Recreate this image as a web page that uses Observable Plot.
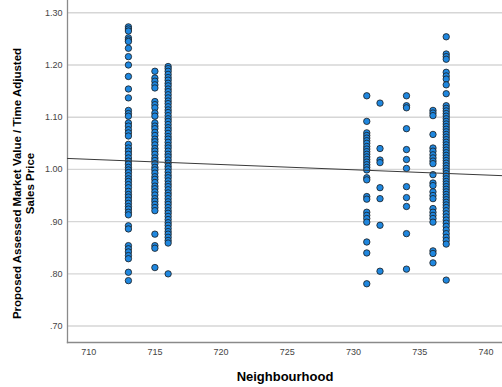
<!DOCTYPE html>
<html><head><meta charset="utf-8">
<script src="https://cdn.jsdelivr.net/npm/d3@7"></script>
<script src="https://cdn.jsdelivr.net/npm/@observablehq/plot@0.6"></script>
<style>html,body{margin:0;padding:0;background:#fff}svg{display:block}</style>
</head><body><div id="chart"></div>
<script>
const neighbourhoods = [713, 715, 716, 731, 732, 734, 736, 737];
const n713 = [1.273,1.269,1.265,1.252,1.248,1.245,1.232,1.216,1.200,1.178,1.154,1.137,1.113,1.107,1.102,1.089,1.083,1.076,1.070,1.064,1.048,1.041,1.035,1.029,1.022,1.016,1.010,1.004,0.999,0.994,0.988,0.982,0.977,0.971,0.965,0.958,0.952,0.947,0.941,0.935,0.929,0.924,0.918,0.913,0.892,0.886,0.854,0.848,0.842,0.835,0.829,0.803,0.787];
const n715 = [1.188,1.175,1.169,1.162,1.156,1.130,1.124,1.118,1.108,1.102,1.089,1.083,1.078,1.071,1.065,1.058,1.053,1.047,1.040,1.035,1.029,1.022,1.017,1.011,1.004,0.999,0.993,0.986,0.981,0.975,0.968,0.963,0.957,0.951,0.944,0.939,0.933,0.927,0.921,0.876,0.854,0.849,0.812];
const n716 = [1.197,1.193,1.188,1.182,1.176,1.171,1.165,1.160,1.154,1.149,1.143,1.137,1.131,1.126,1.120,1.114,1.109,1.103,1.097,1.092,1.086,1.080,1.075,1.069,1.063,1.058,1.052,1.046,1.041,1.035,1.029,1.024,1.018,1.012,1.006,1.001,0.995,0.989,0.984,0.978,0.972,0.967,0.961,0.955,0.950,0.944,0.938,0.933,0.927,0.921,0.916,0.910,0.904,0.898,0.893,0.887,0.881,0.876,0.870,0.864,0.859,0.800];
const n731 = [1.141,1.092,1.070,1.065,1.060,1.055,1.050,1.044,1.039,1.034,1.029,1.024,1.019,1.014,1.009,1.004,0.999,0.984,0.980,0.948,0.943,0.918,0.912,0.906,0.899,0.861,0.840,0.781];
const n732 = [1.127,1.040,1.018,1.013,0.965,0.944,0.893,0.805];
const n734 = [1.141,1.122,1.118,1.078,1.038,1.019,1.002,0.967,0.946,0.929,0.877,0.809];
const n736 = [1.113,1.108,1.103,1.067,1.041,1.035,1.028,1.022,1.016,1.011,0.990,0.974,0.969,0.957,0.950,0.944,0.925,0.918,0.912,0.906,0.899,0.844,0.839,0.821];
const n737 = [1.254,1.221,1.216,1.211,1.186,1.179,1.173,1.162,1.145,1.122,1.117,1.112,1.107,1.102,1.097,1.092,1.087,1.082,1.077,1.072,1.067,1.062,1.057,1.052,1.047,1.042,1.037,1.032,1.027,1.022,1.017,1.012,1.007,1.002,0.997,0.992,0.987,0.982,0.977,0.972,0.967,0.962,0.957,0.952,0.947,0.942,0.937,0.932,0.927,0.921,0.915,0.909,0.903,0.897,0.891,0.884,0.877,0.870,0.864,0.857,0.788];
const ratios = [n713, n715, n716, n731, n732, n734, n736, n737];
const xTicks = [710, 715, 720, 725, 730, 735, 740];
const yTicks = [0.7, 0.8, 0.9, 1.0, 1.1, 1.2, 1.3];
const xDomain = [708.4, 741.25];
const yDomain = [0.6685, 1.3235];
const fitX = [708.4, 741.25];
const fitY = [1.021, 0.988];

const data = neighbourhoods.flatMap((n, i) => ratios[i].map(r => ({n, r})));
const fit = fitX.map((x, i) => ({x, y: fitY[i]}));
const fmt = v => d3.format(".2f")(v).replace(/^0/, "");

const chart = Plot.plot({
  width: 502, height: 387,
  marginLeft: 67, marginRight: 0, marginTop: 0, marginBottom: 45,
  style: {fontFamily: "'Liberation Sans', Arial, sans-serif", background: "#fff", overflow: "visible"},
  x: {domain: xDomain},
  y: {domain: yDomain},
  marks: [
    Plot.gridY(yTicks, {stroke: "#d6d6d6", strokeOpacity: 1, strokeWidth: 1.4}),
    Plot.frame({anchor: "left", stroke: "#8a8a8a", strokeWidth: 1.3}),
    Plot.frame({anchor: "bottom", stroke: "#8a8a8a", strokeWidth: 1.3}),
    Plot.axisY(yTicks, {tickSize: 0, tickPadding: 5, tickFormat: fmt, fontSize: 9, fill: "#444", label: null}),
    Plot.axisX(xTicks, {tickSize: 0, tickPadding: 6, fontSize: 9, fill: "#444", label: null}),
    Plot.dot(data, {x: "n", y: "r", r: 3.2, fill: "#1f87df", stroke: "#1c1c1c", strokeWidth: 0.8}),
    Plot.line(fit, {x: "x", y: "y", stroke: "#3a3a3a", strokeWidth: 1}),
    Plot.text(["Neighbourhood"], {frameAnchor: "bottom", dy: 34, lineAnchor: "middle", fontSize: 13, fontWeight: "bold", fill: "#000"}),
    Plot.text(["Proposed Assessed Market Value / Time Adjusted\nSales Price"], {frameAnchor: "left", dx: -44, dy: 12, rotate: -90, textAnchor: "middle", lineAnchor: "middle", lineHeight: 1.1, fontSize: 11.5, fontWeight: "bold", fill: "#000"})
  ]
});
document.getElementById("chart").appendChild(chart);
</script>
</body></html>
